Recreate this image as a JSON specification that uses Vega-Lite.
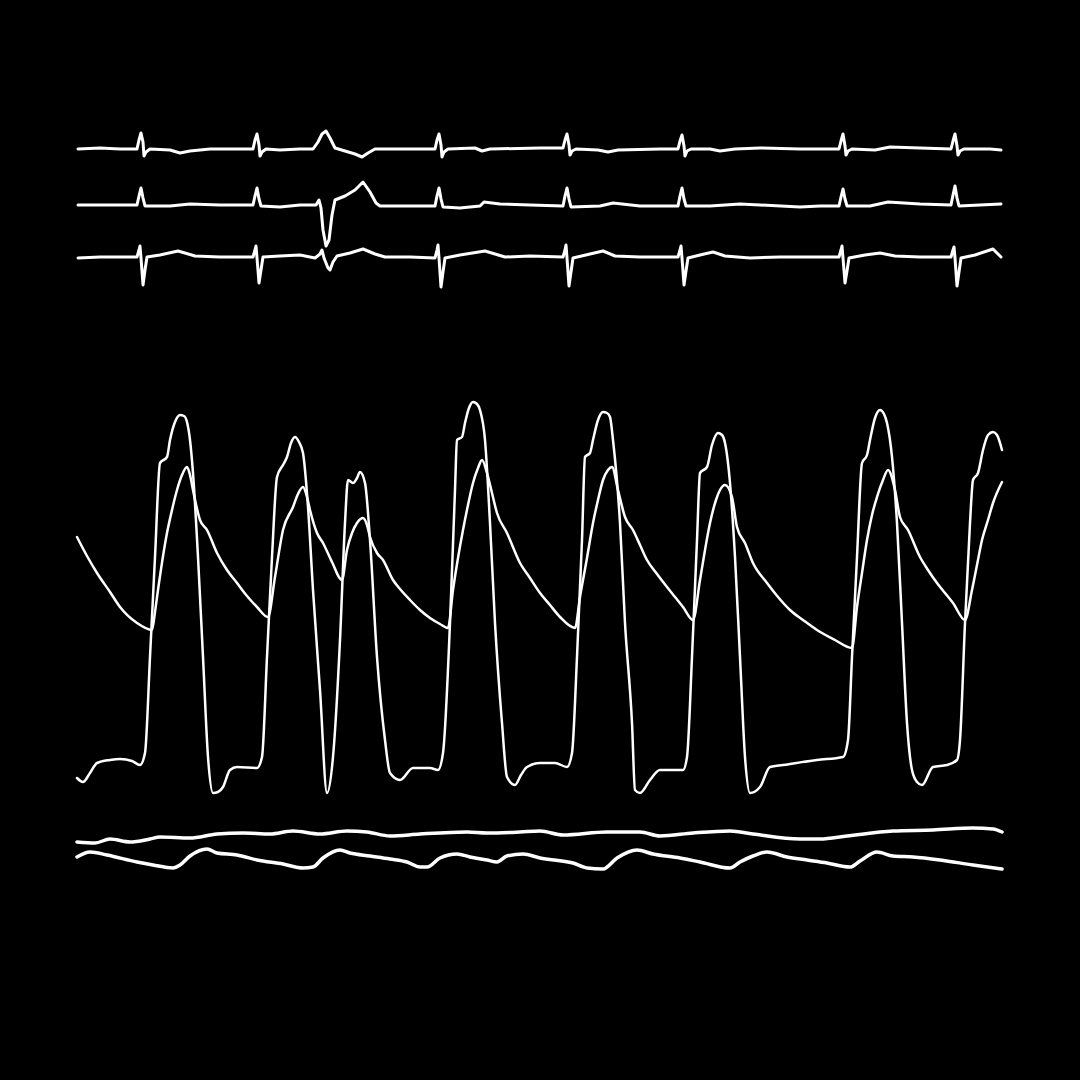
{"$schema":"https://vega.github.io/schema/vega-lite/v6.json","width":1080,"height":1080,"autosize":{"type":"fit","contains":"padding"},"padding":0,"background":"black","config":{"view":{"stroke":null}},
"datasets":{
"ecg":[
{"s":"a","t":78,"v":149},{"s":"a","t":100,"v":148},{"s":"a","t":120,"v":149},{"s":"a","t":137,"v":149},{"s":"a","t":139,"v":140},{"s":"a","t":141,"v":133},{"s":"a","t":143,"v":142},{"s":"a","t":144,"v":156},{"s":"a","t":146,"v":152},{"s":"a","t":150,"v":149},{"s":"a","t":170,"v":150},{"s":"a","t":180,"v":153},{"s":"a","t":190,"v":151},{"s":"a","t":210,"v":149},{"s":"a","t":240,"v":149},{"s":"a","t":253,"v":149},{"s":"a","t":255,"v":140},{"s":"a","t":257,"v":134},{"s":"a","t":259,"v":145},{"s":"a","t":260,"v":156},{"s":"a","t":262,"v":152},{"s":"a","t":266,"v":149},{"s":"a","t":280,"v":150},{"s":"a","t":300,"v":149},{"s":"a","t":313,"v":149},{"s":"a","t":318,"v":142},{"s":"a","t":322,"v":134},{"s":"a","t":326,"v":131},{"s":"a","t":330,"v":138},{"s":"a","t":335,"v":148},{"s":"a","t":345,"v":151},{"s":"a","t":355,"v":154},{"s":"a","t":362,"v":157},{"s":"a","t":368,"v":153},{"s":"a","t":375,"v":149},{"s":"a","t":400,"v":149},{"s":"a","t":435,"v":149},{"s":"a","t":437,"v":140},{"s":"a","t":439,"v":134},{"s":"a","t":441,"v":145},{"s":"a","t":442,"v":157},{"s":"a","t":444,"v":152},{"s":"a","t":448,"v":149},{"s":"a","t":475,"v":148},{"s":"a","t":482,"v":151},{"s":"a","t":490,"v":149},{"s":"a","t":540,"v":148},{"s":"a","t":563,"v":148},{"s":"a","t":565,"v":140},{"s":"a","t":567,"v":134},{"s":"a","t":569,"v":145},{"s":"a","t":570,"v":155},{"s":"a","t":572,"v":151},{"s":"a","t":576,"v":149},{"s":"a","t":598,"v":150},{"s":"a","t":608,"v":152},{"s":"a","t":618,"v":150},{"s":"a","t":660,"v":149},{"s":"a","t":678,"v":149},{"s":"a","t":680,"v":141},{"s":"a","t":682,"v":135},{"s":"a","t":684,"v":146},{"s":"a","t":685,"v":156},{"s":"a","t":687,"v":151},{"s":"a","t":691,"v":149},{"s":"a","t":710,"v":149},{"s":"a","t":720,"v":151},{"s":"a","t":735,"v":149},{"s":"a","t":760,"v":148},{"s":"a","t":800,"v":149},{"s":"a","t":839,"v":149},{"s":"a","t":841,"v":141},{"s":"a","t":843,"v":134},{"s":"a","t":845,"v":146},{"s":"a","t":846,"v":155},{"s":"a","t":848,"v":151},{"s":"a","t":852,"v":149},{"s":"a","t":875,"v":150},{"s":"a","t":890,"v":147},{"s":"a","t":920,"v":148},{"s":"a","t":951,"v":149},{"s":"a","t":953,"v":141},{"s":"a","t":955,"v":134},{"s":"a","t":957,"v":146},{"s":"a","t":958,"v":155},{"s":"a","t":960,"v":151},{"s":"a","t":964,"v":149},{"s":"a","t":990,"v":149},{"s":"a","t":1001,"v":150},
{"s":"b","t":78,"v":205},{"s":"b","t":100,"v":205},{"s":"b","t":120,"v":205},{"s":"b","t":137,"v":205},{"s":"b","t":139,"v":196},{"s":"b","t":141,"v":188},{"s":"b","t":143,"v":198},{"s":"b","t":145,"v":206},{"s":"b","t":150,"v":206},{"s":"b","t":170,"v":206},{"s":"b","t":190,"v":204},{"s":"b","t":220,"v":205},{"s":"b","t":253,"v":205},{"s":"b","t":255,"v":196},{"s":"b","t":257,"v":188},{"s":"b","t":259,"v":199},{"s":"b","t":261,"v":206},{"s":"b","t":280,"v":207},{"s":"b","t":300,"v":205},{"s":"b","t":316,"v":205},{"s":"b","t":319,"v":200},{"s":"b","t":321,"v":208},{"s":"b","t":323,"v":230},{"s":"b","t":326,"v":246},{"s":"b","t":329,"v":240},{"s":"b","t":332,"v":215},{"s":"b","t":335,"v":200},{"s":"b","t":345,"v":196},{"s":"b","t":355,"v":190},{"s":"b","t":363,"v":182},{"s":"b","t":370,"v":192},{"s":"b","t":376,"v":203},{"s":"b","t":380,"v":206},{"s":"b","t":400,"v":206},{"s":"b","t":435,"v":206},{"s":"b","t":437,"v":196},{"s":"b","t":439,"v":188},{"s":"b","t":441,"v":199},{"s":"b","t":443,"v":207},{"s":"b","t":460,"v":208},{"s":"b","t":480,"v":206},{"s":"b","t":484,"v":202},{"s":"b","t":500,"v":204},{"s":"b","t":530,"v":205},{"s":"b","t":563,"v":206},{"s":"b","t":565,"v":196},{"s":"b","t":567,"v":188},{"s":"b","t":569,"v":199},{"s":"b","t":571,"v":207},{"s":"b","t":600,"v":206},{"s":"b","t":613,"v":203},{"s":"b","t":640,"v":206},{"s":"b","t":678,"v":206},{"s":"b","t":680,"v":196},{"s":"b","t":682,"v":188},{"s":"b","t":684,"v":199},{"s":"b","t":686,"v":206},{"s":"b","t":710,"v":206},{"s":"b","t":740,"v":204},{"s":"b","t":760,"v":205},{"s":"b","t":800,"v":207},{"s":"b","t":820,"v":206},{"s":"b","t":839,"v":206},{"s":"b","t":841,"v":197},{"s":"b","t":843,"v":189},{"s":"b","t":845,"v":199},{"s":"b","t":847,"v":206},{"s":"b","t":870,"v":206},{"s":"b","t":888,"v":202},{"s":"b","t":920,"v":204},{"s":"b","t":951,"v":205},{"s":"b","t":953,"v":195},{"s":"b","t":955,"v":186},{"s":"b","t":957,"v":198},{"s":"b","t":959,"v":206},{"s":"b","t":980,"v":205},{"s":"b","t":1001,"v":204},
{"s":"c","t":78,"v":258},{"s":"c","t":100,"v":257},{"s":"c","t":120,"v":257},{"s":"c","t":137,"v":257},{"s":"c","t":139,"v":250},{"s":"c","t":140,"v":246},{"s":"c","t":141,"v":258},{"s":"c","t":143,"v":285},{"s":"c","t":145,"v":270},{"s":"c","t":147,"v":257},{"s":"c","t":160,"v":255},{"s":"c","t":178,"v":251},{"s":"c","t":195,"v":256},{"s":"c","t":220,"v":257},{"s":"c","t":253,"v":257},{"s":"c","t":255,"v":250},{"s":"c","t":256,"v":246},{"s":"c","t":257,"v":258},{"s":"c","t":259,"v":283},{"s":"c","t":261,"v":270},{"s":"c","t":263,"v":257},{"s":"c","t":280,"v":256},{"s":"c","t":300,"v":255},{"s":"c","t":315,"v":258},{"s":"c","t":320,"v":254},{"s":"c","t":322,"v":250},{"s":"c","t":324,"v":258},{"s":"c","t":328,"v":268},{"s":"c","t":330,"v":270},{"s":"c","t":333,"v":262},{"s":"c","t":337,"v":256},{"s":"c","t":350,"v":253},{"s":"c","t":363,"v":249},{"s":"c","t":375,"v":254},{"s":"c","t":385,"v":257},{"s":"c","t":410,"v":257},{"s":"c","t":435,"v":258},{"s":"c","t":437,"v":250},{"s":"c","t":438,"v":245},{"s":"c","t":439,"v":258},{"s":"c","t":441,"v":287},{"s":"c","t":443,"v":272},{"s":"c","t":445,"v":258},{"s":"c","t":460,"v":255},{"s":"c","t":485,"v":251},{"s":"c","t":495,"v":254},{"s":"c","t":505,"v":257},{"s":"c","t":530,"v":256},{"s":"c","t":563,"v":257},{"s":"c","t":565,"v":250},{"s":"c","t":566,"v":245},{"s":"c","t":567,"v":258},{"s":"c","t":569,"v":286},{"s":"c","t":571,"v":272},{"s":"c","t":573,"v":258},{"s":"c","t":590,"v":254},{"s":"c","t":603,"v":251},{"s":"c","t":615,"v":256},{"s":"c","t":640,"v":257},{"s":"c","t":678,"v":257},{"s":"c","t":680,"v":250},{"s":"c","t":681,"v":246},{"s":"c","t":682,"v":258},{"s":"c","t":684,"v":285},{"s":"c","t":686,"v":271},{"s":"c","t":688,"v":258},{"s":"c","t":700,"v":255},{"s":"c","t":713,"v":252},{"s":"c","t":725,"v":256},{"s":"c","t":750,"v":258},{"s":"c","t":780,"v":257},{"s":"c","t":800,"v":257},{"s":"c","t":839,"v":257},{"s":"c","t":841,"v":250},{"s":"c","t":842,"v":246},{"s":"c","t":843,"v":258},{"s":"c","t":845,"v":283},{"s":"c","t":847,"v":271},{"s":"c","t":849,"v":258},{"s":"c","t":865,"v":255},{"s":"c","t":880,"v":253},{"s":"c","t":895,"v":256},{"s":"c","t":920,"v":257},{"s":"c","t":951,"v":257},{"s":"c","t":953,"v":250},{"s":"c","t":954,"v":247},{"s":"c","t":955,"v":258},{"s":"c","t":957,"v":286},{"s":"c","t":959,"v":272},{"s":"c","t":961,"v":258},{"s":"c","t":975,"v":255},{"s":"c","t":993,"v":249},{"s":"c","t":1001,"v":257}
],
"pressure":[
{"s":"lv","t":77,"v":778},{"s":"lv","t":83,"v":782},{"s":"lv","t":90,"v":773},{"s":"lv","t":97,"v":763},{"s":"lv","t":110,"v":760},{"s":"lv","t":120,"v":759},{"s":"lv","t":132,"v":761},{"s":"lv","t":140,"v":765},{"s":"lv","t":145,"v":753},{"s":"lv","t":150,"v":657},{"s":"lv","t":155,"v":557},{"s":"lv","t":160,"v":463},{"s":"lv","t":167,"v":457},{"s":"lv","t":170,"v":440},{"s":"lv","t":175,"v":422},{"s":"lv","t":180,"v":415},{"s":"lv","t":184,"v":416},{"s":"lv","t":187,"v":422},{"s":"lv","t":190,"v":440},{"s":"lv","t":193,"v":473},{"s":"lv","t":198,"v":557},{"s":"lv","t":203,"v":657},{"s":"lv","t":208,"v":757},{"s":"lv","t":213,"v":793},{"s":"lv","t":218,"v":792},{"s":"lv","t":223,"v":787},{"s":"lv","t":230,"v":770},{"s":"lv","t":237,"v":767},{"s":"lv","t":257,"v":768},{"s":"lv","t":262,"v":757},{"s":"lv","t":267,"v":657},{"s":"lv","t":272,"v":557},{"s":"lv","t":277,"v":477},{"s":"lv","t":283,"v":465},{"s":"lv","t":287,"v":457},{"s":"lv","t":291,"v":443},{"s":"lv","t":295,"v":437},{"s":"lv","t":299,"v":442},{"s":"lv","t":303,"v":453},{"s":"lv","t":308,"v":507},{"s":"lv","t":313,"v":590},{"s":"lv","t":320,"v":690},{"s":"lv","t":327,"v":793},{"s":"lv","t":333,"v":757},{"s":"lv","t":340,"v":640},{"s":"lv","t":345,"v":523},{"s":"lv","t":348,"v":480},{"s":"lv","t":353,"v":483},{"s":"lv","t":357,"v":478},{"s":"lv","t":360,"v":472},{"s":"lv","t":365,"v":483},{"s":"lv","t":370,"v":540},{"s":"lv","t":377,"v":657},{"s":"lv","t":385,"v":740},{"s":"lv","t":390,"v":773},{"s":"lv","t":400,"v":780},{"s":"lv","t":413,"v":768},{"s":"lv","t":430,"v":768},{"s":"lv","t":438,"v":770},{"s":"lv","t":443,"v":753},{"s":"lv","t":450,"v":623},{"s":"lv","t":455,"v":490},{"s":"lv","t":457,"v":440},{"s":"lv","t":462,"v":437},{"s":"lv","t":465,"v":423},{"s":"lv","t":469,"v":408},{"s":"lv","t":473,"v":402},{"s":"lv","t":477,"v":404},{"s":"lv","t":480,"v":410},{"s":"lv","t":485,"v":440},{"s":"lv","t":490,"v":523},{"s":"lv","t":495,"v":623},{"s":"lv","t":502,"v":723},{"s":"lv","t":507,"v":777},{"s":"lv","t":515,"v":785},{"s":"lv","t":521,"v":775},{"s":"lv","t":527,"v":767},{"s":"lv","t":540,"v":763},{"s":"lv","t":555,"v":763},{"s":"lv","t":567,"v":767},{"s":"lv","t":572,"v":753},{"s":"lv","t":577,"v":657},{"s":"lv","t":582,"v":540},{"s":"lv","t":585,"v":457},{"s":"lv","t":590,"v":453},{"s":"lv","t":593,"v":440},{"s":"lv","t":598,"v":420},{"s":"lv","t":603,"v":412},{"s":"lv","t":607,"v":413},{"s":"lv","t":610,"v":417},{"s":"lv","t":613,"v":440},{"s":"lv","t":620,"v":523},{"s":"lv","t":625,"v":623},{"s":"lv","t":632,"v":723},{"s":"lv","t":635,"v":790},{"s":"lv","t":640,"v":793},{"s":"lv","t":650,"v":780},{"s":"lv","t":660,"v":770},{"s":"lv","t":683,"v":770},{"s":"lv","t":687,"v":757},{"s":"lv","t":692,"v":657},{"s":"lv","t":697,"v":540},{"s":"lv","t":700,"v":473},{"s":"lv","t":707,"v":467},{"s":"lv","t":712,"v":445},{"s":"lv","t":718,"v":433},{"s":"lv","t":722,"v":435},{"s":"lv","t":725,"v":443},{"s":"lv","t":730,"v":483},{"s":"lv","t":735,"v":557},{"s":"lv","t":740,"v":657},{"s":"lv","t":745,"v":757},{"s":"lv","t":750,"v":793},{"s":"lv","t":760,"v":787},{"s":"lv","t":770,"v":767},{"s":"lv","t":783,"v":765},{"s":"lv","t":817,"v":760},{"s":"lv","t":843,"v":757},{"s":"lv","t":848,"v":740},{"s":"lv","t":852,"v":657},{"s":"lv","t":857,"v":557},{"s":"lv","t":862,"v":463},{"s":"lv","t":867,"v":455},{"s":"lv","t":870,"v":440},{"s":"lv","t":875,"v":418},{"s":"lv","t":880,"v":410},{"s":"lv","t":884,"v":414},{"s":"lv","t":887,"v":423},{"s":"lv","t":892,"v":457},{"s":"lv","t":897,"v":523},{"s":"lv","t":902,"v":623},{"s":"lv","t":907,"v":723},{"s":"lv","t":912,"v":770},{"s":"lv","t":917,"v":782},{"s":"lv","t":922,"v":785},{"s":"lv","t":933,"v":767},{"s":"lv","t":947,"v":765},{"s":"lv","t":957,"v":760},{"s":"lv","t":960,"v":740},{"s":"lv","t":965,"v":623},{"s":"lv","t":970,"v":523},{"s":"lv","t":973,"v":480},{"s":"lv","t":978,"v":473},{"s":"lv","t":983,"v":450},{"s":"lv","t":988,"v":435},{"s":"lv","t":993,"v":432},{"s":"lv","t":997,"v":435},{"s":"lv","t":1002,"v":450},
{"s":"ao","t":77,"v":537},{"s":"ao","t":87,"v":556},{"s":"ao","t":97,"v":573},{"s":"ao","t":110,"v":592},{"s":"ao","t":120,"v":607},{"s":"ao","t":137,"v":623},{"s":"ao","t":152,"v":630},{"s":"ao","t":155,"v":612},{"s":"ao","t":158,"v":590},{"s":"ao","t":167,"v":533},{"s":"ao","t":172,"v":510},{"s":"ao","t":177,"v":490},{"s":"ao","t":182,"v":475},{"s":"ao","t":187,"v":467},{"s":"ao","t":190,"v":475},{"s":"ao","t":193,"v":490},{"s":"ao","t":200,"v":520},{"s":"ao","t":207,"v":530},{"s":"ao","t":217,"v":553},{"s":"ao","t":227,"v":570},{"s":"ao","t":237,"v":583},{"s":"ao","t":247,"v":596},{"s":"ao","t":257,"v":607},{"s":"ao","t":268,"v":617},{"s":"ao","t":275,"v":577},{"s":"ao","t":283,"v":530},{"s":"ao","t":293,"v":507},{"s":"ao","t":298,"v":494},{"s":"ao","t":303,"v":487},{"s":"ao","t":307,"v":497},{"s":"ao","t":310,"v":510},{"s":"ao","t":317,"v":533},{"s":"ao","t":323,"v":543},{"s":"ao","t":332,"v":562},{"s":"ao","t":342,"v":580},{"s":"ao","t":347,"v":550},{"s":"ao","t":352,"v":533},{"s":"ao","t":357,"v":523},{"s":"ao","t":363,"v":518},{"s":"ao","t":367,"v":525},{"s":"ao","t":370,"v":537},{"s":"ao","t":377,"v":553},{"s":"ao","t":383,"v":560},{"s":"ao","t":393,"v":580},{"s":"ao","t":400,"v":589},{"s":"ao","t":410,"v":600},{"s":"ao","t":420,"v":610},{"s":"ao","t":430,"v":618},{"s":"ao","t":440,"v":624},{"s":"ao","t":448,"v":628},{"s":"ao","t":453,"v":590},{"s":"ao","t":458,"v":558},{"s":"ao","t":463,"v":530},{"s":"ao","t":468,"v":505},{"s":"ao","t":473,"v":483},{"s":"ao","t":478,"v":468},{"s":"ao","t":482,"v":460},{"s":"ao","t":487,"v":473},{"s":"ao","t":492,"v":493},{"s":"ao","t":497,"v":513},{"s":"ao","t":507,"v":533},{"s":"ao","t":520,"v":563},{"s":"ao","t":530,"v":578},{"s":"ao","t":540,"v":593},{"s":"ao","t":550,"v":605},{"s":"ao","t":560,"v":617},{"s":"ao","t":575,"v":628},{"s":"ao","t":580,"v":597},{"s":"ao","t":587,"v":558},{"s":"ao","t":593,"v":523},{"s":"ao","t":598,"v":500},{"s":"ao","t":603,"v":480},{"s":"ao","t":608,"v":470},{"s":"ao","t":612,"v":467},{"s":"ao","t":618,"v":490},{"s":"ao","t":625,"v":517},{"s":"ao","t":633,"v":530},{"s":"ao","t":640,"v":545},{"s":"ao","t":647,"v":560},{"s":"ao","t":657,"v":574},{"s":"ao","t":667,"v":587},{"s":"ao","t":675,"v":597},{"s":"ao","t":683,"v":607},{"s":"ao","t":693,"v":620},{"s":"ao","t":700,"v":580},{"s":"ao","t":705,"v":550},{"s":"ao","t":710,"v":523},{"s":"ao","t":716,"v":500},{"s":"ao","t":720,"v":490},{"s":"ao","t":725,"v":485},{"s":"ao","t":732,"v":497},{"s":"ao","t":737,"v":527},{"s":"ao","t":745,"v":543},{"s":"ao","t":753,"v":563},{"s":"ao","t":767,"v":583},{"s":"ao","t":778,"v":597},{"s":"ao","t":790,"v":610},{"s":"ao","t":803,"v":620},{"s":"ao","t":817,"v":630},{"s":"ao","t":835,"v":640},{"s":"ao","t":852,"v":648},{"s":"ao","t":857,"v":607},{"s":"ao","t":862,"v":573},{"s":"ao","t":867,"v":540},{"s":"ao","t":872,"v":515},{"s":"ao","t":877,"v":497},{"s":"ao","t":883,"v":480},{"s":"ao","t":888,"v":470},{"s":"ao","t":895,"v":490},{"s":"ao","t":900,"v":517},{"s":"ao","t":908,"v":530},{"s":"ao","t":920,"v":557},{"s":"ao","t":928,"v":570},{"s":"ao","t":937,"v":583},{"s":"ao","t":945,"v":593},{"s":"ao","t":953,"v":603},{"s":"ao","t":965,"v":620},{"s":"ao","t":972,"v":590},{"s":"ao","t":977,"v":565},{"s":"ao","t":982,"v":540},{"s":"ao","t":988,"v":520},{"s":"ao","t":993,"v":503},{"s":"ao","t":1002,"v":482}
],
"slow":[
{"s":"p","t":77,"v":842},{"s":"p","t":95,"v":843},{"s":"p","t":110,"v":839},{"s":"p","t":130,"v":842},{"s":"p","t":150,"v":839},{"s":"p","t":160,"v":837},{"s":"p","t":190,"v":838},{"s":"p","t":217,"v":834},{"s":"p","t":243,"v":833},{"s":"p","t":270,"v":834},{"s":"p","t":293,"v":831},{"s":"p","t":320,"v":834},{"s":"p","t":347,"v":831},{"s":"p","t":367,"v":832},{"s":"p","t":390,"v":836},{"s":"p","t":420,"v":834},{"s":"p","t":467,"v":832},{"s":"p","t":487,"v":833},{"s":"p","t":520,"v":832},{"s":"p","t":540,"v":831},{"s":"p","t":563,"v":835},{"s":"p","t":607,"v":832},{"s":"p","t":640,"v":832},{"s":"p","t":660,"v":836},{"s":"p","t":693,"v":833},{"s":"p","t":730,"v":831},{"s":"p","t":753,"v":834},{"s":"p","t":800,"v":839},{"s":"p","t":820,"v":839},{"s":"p","t":847,"v":836},{"s":"p","t":893,"v":831},{"s":"p","t":933,"v":830},{"s":"p","t":973,"v":828},{"s":"p","t":993,"v":829},{"s":"p","t":1002,"v":832},
{"s":"q","t":77,"v":857},{"s":"q","t":90,"v":852},{"s":"q","t":107,"v":855},{"s":"q","t":137,"v":862},{"s":"q","t":153,"v":865},{"s":"q","t":173,"v":868},{"s":"q","t":180,"v":865},{"s":"q","t":190,"v":856},{"s":"q","t":207,"v":849},{"s":"q","t":217,"v":853},{"s":"q","t":237,"v":855},{"s":"q","t":257,"v":860},{"s":"q","t":283,"v":864},{"s":"q","t":303,"v":868},{"s":"q","t":313,"v":867},{"s":"q","t":323,"v":858},{"s":"q","t":340,"v":850},{"s":"q","t":350,"v":853},{"s":"q","t":370,"v":856},{"s":"q","t":390,"v":859},{"s":"q","t":407,"v":862},{"s":"q","t":420,"v":867},{"s":"q","t":427,"v":867},{"s":"q","t":440,"v":858},{"s":"q","t":457,"v":854},{"s":"q","t":470,"v":857},{"s":"q","t":487,"v":860},{"s":"q","t":497,"v":862},{"s":"q","t":507,"v":856},{"s":"q","t":523,"v":854},{"s":"q","t":540,"v":858},{"s":"q","t":573,"v":863},{"s":"q","t":587,"v":868},{"s":"q","t":603,"v":869},{"s":"q","t":617,"v":858},{"s":"q","t":637,"v":850},{"s":"q","t":653,"v":854},{"s":"q","t":680,"v":858},{"s":"q","t":700,"v":862},{"s":"q","t":730,"v":868},{"s":"q","t":740,"v":862},{"s":"q","t":753,"v":856},{"s":"q","t":767,"v":852},{"s":"q","t":787,"v":857},{"s":"q","t":807,"v":860},{"s":"q","t":827,"v":863},{"s":"q","t":850,"v":867},{"s":"q","t":860,"v":861},{"s":"q","t":877,"v":852},{"s":"q","t":893,"v":856},{"s":"q","t":913,"v":857},{"s":"q","t":940,"v":860},{"s":"q","t":973,"v":865},{"s":"q","t":1002,"v":869}
]},
"layer":[
{"data":{"name":"ecg"},"mark":{"type":"line","color":"white","strokeWidth":3,"strokeJoin":"round","strokeCap":"round"},"encoding":{"x":{"field":"t","type":"quantitative","scale":{"domain":[0,1080],"nice":false,"zero":false},"axis":null},"y":{"field":"v","type":"quantitative","scale":{"domain":[0,1080],"nice":false,"zero":false,"reverse":true},"axis":null},"detail":{"field":"s","type":"nominal"}}},
{"data":{"name":"pressure"},"mark":{"type":"line","color":"white","strokeWidth":2.5,"strokeJoin":"round","strokeCap":"round","interpolate":"monotone"},"encoding":{"x":{"field":"t","type":"quantitative","scale":{"domain":[0,1080],"nice":false,"zero":false},"axis":null},"y":{"field":"v","type":"quantitative","scale":{"domain":[0,1080],"nice":false,"zero":false,"reverse":true},"axis":null},"detail":{"field":"s","type":"nominal"}}},
{"data":{"name":"slow"},"mark":{"type":"line","color":"white","strokeWidth":3.5,"strokeJoin":"round","strokeCap":"round","interpolate":"monotone"},"encoding":{"x":{"field":"t","type":"quantitative","scale":{"domain":[0,1080],"nice":false,"zero":false},"axis":null},"y":{"field":"v","type":"quantitative","scale":{"domain":[0,1080],"nice":false,"zero":false,"reverse":true},"axis":null},"detail":{"field":"s","type":"nominal"}}}
]}
